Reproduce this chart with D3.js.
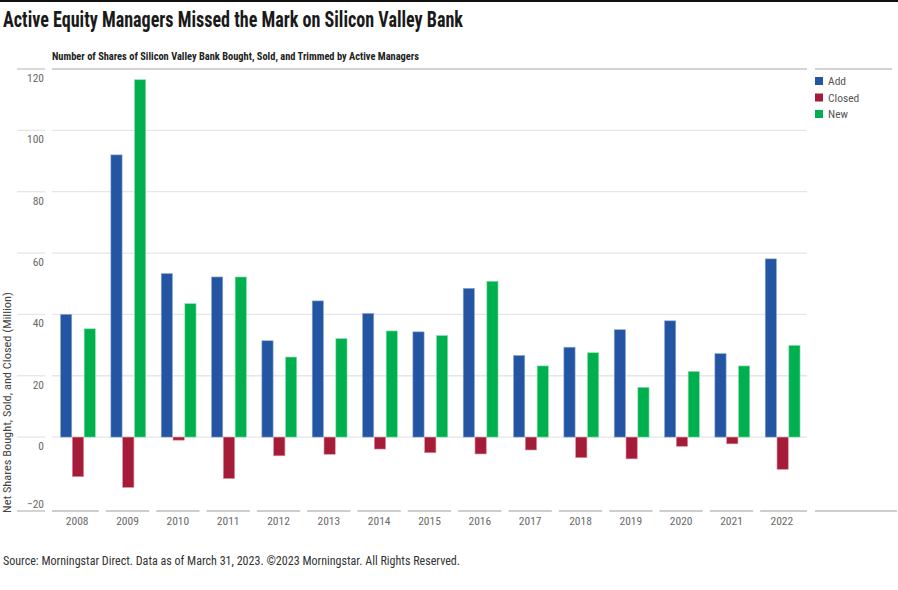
<!DOCTYPE html>
<html>
<head>
<meta charset="utf-8">
<script src="https://cdn.jsdelivr.net/npm/d3@7"></script>
<style>
  body { margin: 0; background: #fff; }
  svg { display: block; }
  text { font-family: "Liberation Sans Narrow", "Arial Narrow", "Roboto Condensed", "DejaVu Sans Condensed", Roboto, sans-serif; }
</style>
</head>
<body>
<div id="chart"></div>
<script>
const years = ['2008', '2009', '2010', '2011', '2012', '2013', '2014', '2015',
               '2016', '2017', '2018', '2019', '2020', '2021', '2022'];
const seriesNames = ['Add', 'Closed', 'New'];
const addValues = [40.0, 92.0, 53.3, 52.2, 31.4, 44.4, 40.3, 34.3, 48.5, 26.6, 29.3, 35.0, 37.9, 27.2, 58.1];
const closedValues = [-12.9, -16.4, -1.0, -13.5, -6.1, -5.6, -3.9, -5.1, -5.5, -4.2, -6.7, -7.1, -3.0, -2.2, -10.5];
const newValues = [35.3, 116.5, 43.5, 52.2, 26.1, 32.1, 34.6, 33.1, 50.8, 23.2, 27.5, 16.2, 21.4, 23.2, 29.9];
const yTicks = [-20, 0, 20, 40, 60, 80, 100, 120];

const colors = { Add: '#2455a3', Closed: '#a51c38', New: '#00b04f' };
const strokes = { Add: '#8fa8d6', Closed: '#d98a9a', New: '#8fe0b0' };

const W = 898, H = 590;
const plot = { left: 52, right: 807, top: 69, bottom: 511 };

const svg = d3.select('#chart').append('svg')
    .attr('width', W)
    .attr('height', H);

// top rule
svg.append('line')
    .attr('x1', 0).attr('x2', W)
    .attr('y1', 1).attr('y2', 1)
    .attr('stroke', '#111').attr('stroke-width', 2);

svg.append('text')
    .attr('x', 3).attr('y', 27)
    .attr('font-size', 22).attr('font-weight', 'bold')
    .attr('fill', '#1a1a1a')
    .attr('textLength', 460).attr('lengthAdjust', 'spacingAndGlyphs')
    .text('Active Equity Managers Missed the Mark on Silicon Valley Bank');

svg.append('text')
    .attr('x', 52).attr('y', 60)
    .attr('font-size', 10).attr('font-weight', 'bold')
    .attr('fill', '#222')
    .attr('textLength', 367).attr('lengthAdjust', 'spacingAndGlyphs')
    .text('Number of Shares of Silicon Valley Bank Bought, Sold, and Trimmed by Active Managers');

const x0 = d3.scaleBand()
    .domain(years)
    .range([plot.left, plot.right]);

const groupW = x0.bandwidth() * 0.704;
const x1 = d3.scaleBand()
    .domain(seriesNames)
    .range([(x0.bandwidth() - groupW) / 2 + 0.8, (x0.bandwidth() + groupW) / 2 + 0.8]);

const y = d3.scaleLinear()
    .domain([-24.1, 120])
    .range([plot.bottom, plot.top]);

// gridlines
const grid = svg.append('g').attr('class', 'grid');
yTicks.filter(t => t !== -20).forEach(t => {
    const c = t === 120 ? '#c4c4c4' : '#e6e6e6';
    grid.append('line')
        .attr('x1', plot.left).attr('x2', plot.right)
        .attr('y1', y(t)).attr('y2', y(t))
        .attr('stroke', c).attr('stroke-width', 1.3);
    grid.append('line')
        .attr('x1', 17).attr('x2', 45)
        .attr('y1', y(t)).attr('y2', y(t))
        .attr('stroke', c).attr('stroke-width', 1.3);
});
// legend column top rule
grid.append('line')
    .attr('x1', 815).attr('x2', 892)
    .attr('y1', y(120)).attr('y2', y(120))
    .attr('stroke', '#c4c4c4').attr('stroke-width', 1.3);

// y tick labels (sit just under their gridline)
svg.append('g')
    .selectAll('text')
    .data(yTicks)
    .join('text')
    .attr('x', 44)
    .attr('y', d => d === -20 ? y(d) + 10 : y(d) + 13)
    .attr('text-anchor', 'end')
    .attr('font-size', 11.5)
    .attr('fill', '#6a6a6a')
    .text(d => d < 0 ? '\u2212' + Math.abs(d) : d);

// y axis title
svg.append('text')
    .attr('transform', `translate(11,${(292 + 513) / 2}) rotate(-90)`)
    .attr('text-anchor', 'middle')
    .attr('font-size', 11)
    .attr('fill', '#444')
    .attr('textLength', 221).attr('lengthAdjust', 'spacingAndGlyphs')
    .text('Net Shares Bought, Sold, and Closed (Million)');

// bars
const rows = years.map((yr, i) => ({
    year: yr,
    values: [
        { key: 'Add', value: addValues[i] },
        { key: 'Closed', value: closedValues[i] },
        { key: 'New', value: newValues[i] }
    ]
}));

svg.append('g')
    .selectAll('g')
    .data(rows)
    .join('g')
    .attr('transform', d => `translate(${x0(d.year)},0)`)
    .selectAll('rect')
    .data(d => d.values)
    .join('rect')
    .attr('x', d => x1(d.key) + 0.3)
    .attr('width', x1.bandwidth() - 0.6)
    .attr('y', d => y(Math.max(0, d.value)))
    .attr('height', d => Math.abs(y(d.value) - y(0)))
    .attr('fill', d => colors[d.key])
    .attr('stroke', d => strokes[d.key])
    .attr('stroke-width', 0.6);

// bottom axis: one segment per category
const axis = svg.append('g').attr('class', 'x-axis');
axis.selectAll('line')
    .data(years)
    .join('line')
    .attr('x1', (d, i) => i === 0 ? plot.left : x0(d) + 3.5)
    .attr('x2', (d, i) => i === years.length - 1 ? plot.right : x0(d) + x0.bandwidth() - 3.5)
    .attr('y1', plot.bottom).attr('y2', plot.bottom)
    .attr('stroke', '#bdbdbd').attr('stroke-width', 1.3);
axis.append('line')
    .attr('x1', 17).attr('x2', 45)
    .attr('y1', plot.bottom).attr('y2', plot.bottom)
    .attr('stroke', '#bdbdbd').attr('stroke-width', 1.3);
axis.append('line')
    .attr('x1', 815).attr('x2', 897)
    .attr('y1', plot.bottom).attr('y2', plot.bottom)
    .attr('stroke', '#bdbdbd').attr('stroke-width', 1.3);
axis.selectAll('text')
    .data(years)
    .join('text')
    .attr('x', d => x0(d) + x0.bandwidth() / 2)
    .attr('y', 525)
    .attr('text-anchor', 'middle')
    .attr('font-size', 11.5)
    .attr('fill', '#6a6a6a')
    .text(d => d);

// legend
const legend = svg.append('g')
    .selectAll('g')
    .data(seriesNames)
    .join('g')
    .attr('transform', (d, i) => `translate(815,${77 + i * 16.5})`);
legend.append('rect')
    .attr('width', 8).attr('height', 8)
    .attr('fill', d => colors[d]);
legend.append('text')
    .attr('x', 13).attr('y', 8)
    .attr('font-size', 11.5)
    .attr('fill', '#555')
    .text(d => d);

// footer
svg.append('text')
    .attr('x', 3).attr('y', 565)
    .attr('font-size', 12)
    .attr('fill', '#333')
    .attr('textLength', 457).attr('lengthAdjust', 'spacingAndGlyphs')
    .text('Source: Morningstar Direct. Data as of March 31, 2023. \u00a92023 Morningstar. All Rights Reserved.');
</script>
</body>
</html>
